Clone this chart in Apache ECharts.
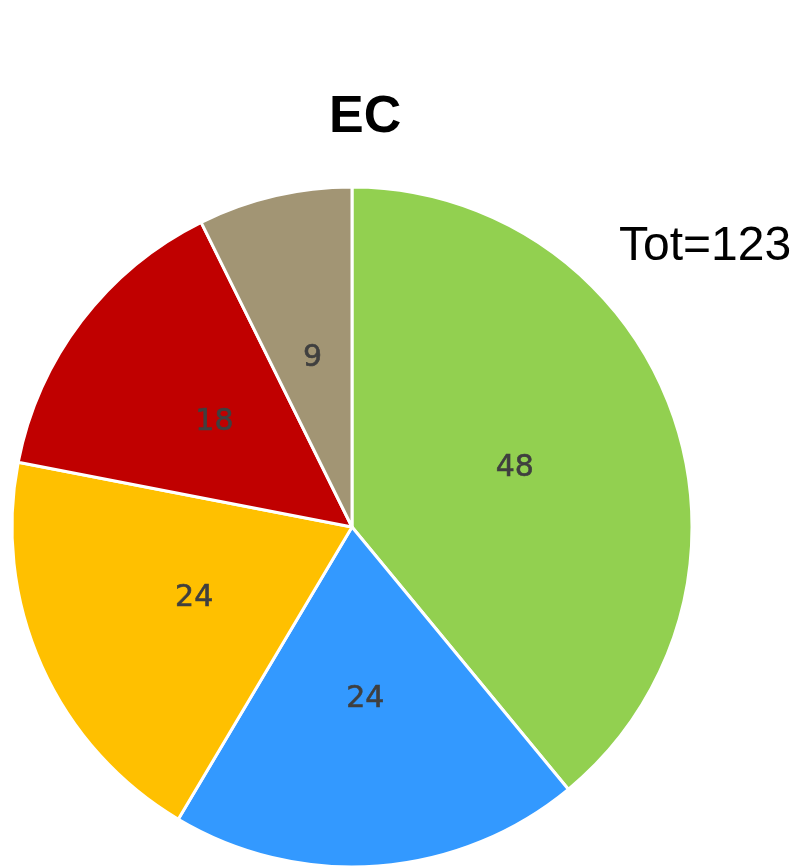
<!DOCTYPE html>
<html>
<head>
<meta charset="utf-8">
<script src="https://cdn.jsdelivr.net/npm/echarts@6/dist/echarts.min.js"></script>
<style>
  html, body { margin: 0; padding: 0; background: #fff; }
  #chart { width: 796px; height: 867px; }
</style>
</head>
<body>
<div id="chart"></div>
<script>
// slice data, clockwise from 12 o'clock
var categories = ['A', 'B', 'C', 'D', 'E'];
var values = [48, 24, 24, 18, 9];
var colors = ['#92D050', '#3399FF', '#FFC000', '#C00000', '#A29574'];
var titleText = 'EC';
var totalText = 'Tot=123';

var chart = echarts.init(document.getElementById('chart'));

var option = {
  animation: false,
  title: [{
    text: titleText,
    left: 329,
    top: 92,
    textStyle: {
      fontFamily: 'Liberation Sans',
      fontWeight: 'bold',
      fontSize: 52,
      color: '#000'
    },
    padding: 0
  }, {
    text: totalText,
    left: 619,
    top: 223,
    textStyle: {
      fontFamily: 'Liberation Sans',
      fontWeight: 'normal',
      fontSize: 48,
      color: '#000'
    },
    padding: 0
  }],
  series: [{
    type: 'pie',
    center: [352, 527],
    radius: [0, 340],
    startAngle: 90,
    clockwise: true,
    color: colors,
    itemStyle: {
      borderColor: '#fff',
      borderWidth: 3
    },
    label: {
      show: true,
      position: 'inside',
      formatter: '{c}',
      fontFamily: 'DejaVu Sans',
      fontWeight: 'normal',
      fontSize: 30,
      color: '#3f3f3f',
      textBorderColor: '#3f3f3f',
      textBorderWidth: 0.6,
      padding: [4, 0, 0, 0]
    },
    labelLine: { show: false },
    emphasis: { disabled: true },
    data: categories.map(function (c, i) {
      return { name: c, value: values[i] };
    })
  }]
};

chart.setOption(option);
</script>
</body>
</html>
